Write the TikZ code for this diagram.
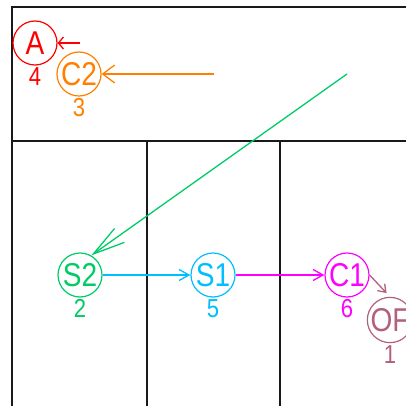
\documentclass[tikz,border=0pt]{standalone}
\usepackage{fontspec}
\setmainfont{Liberation Sans}[FakeStretch=0.85]
\usetikzlibrary{arrows.meta}
\definecolor{cred}{HTML}{FF0000}
\definecolor{corange}{HTML}{FF8000}
\definecolor{cgreen}{HTML}{00CC66}
\definecolor{ccyan}{HTML}{00BFFF}
\definecolor{cmagenta}{HTML}{FF00FF}
\definecolor{cmauve}{HTML}{B3607A}

\begin{document}
\begin{tikzpicture}[
      x=1pt,y=-1pt,
      state/.style={circle,draw,line width=1.2pt,minimum size=44pt,inner sep=0pt,
                    font=\fontsize{33}{33}\selectfont},
      lbl/.style={font=\fontsize{26}{26}\selectfont,inner sep=0pt},
      frame/.style={line width=1.4pt,black!90},
      arrow/.style={line width=1.3pt}
    ]
    \useasboundingbox (0,0) rectangle (406,406);
    \clip (0,0) rectangle (406,406);

    % frame
    \draw[frame] (406,7) -- (12,7) -- (12,406);
    \draw[frame] (12,141) -- (406,141);
    \draw[frame] (147,141) -- (147,406);
    \draw[frame] (280,141) -- (280,406);

    % states
    \node[state,draw=cred,text=cred,label={[lbl,text=cred,label distance=2pt]below:4}] (A) at (35,43) {A};
    \node[state,draw=corange,text=corange,label={[lbl,text=corange,label distance=2pt]below:3}] (C2) at (79,74) {C2};
    \node[state,draw=cgreen,text=cgreen,label={[lbl,text=cgreen,label distance=2pt]below:2}] (S2) at (80,275) {S2};
    \node[state,draw=ccyan,text=ccyan,label={[lbl,text=ccyan,label distance=2pt]below:5}] (S1) at (213,275) {S1};
    \node[state,draw=cmagenta,text=cmagenta,label={[lbl,text=cmagenta,label distance=2pt]below:6}] (C1) at (347,275) {C1};
    \node[state,draw=cmauve,text=cmauve,label={[lbl,text=cmauve,label distance=2pt]below:1}] (OF) at (390,320) {OF};

    % free ends
    \coordinate (inA)  at (80,43);
    \coordinate (inC2) at (214,74);
    \coordinate (inS2) at (347,74);

    % arrows
    \draw[arrow,cred,-{Straight Barb[length=5pt,width=12pt]}] (inA) -- (A.east);
    \draw[arrow,corange,-{Straight Barb[length=12pt,width=18pt]}] (inC2) -- (C2.east);
    \draw[arrow,cgreen,-{Straight Barb[length=32pt,width=17pt]}] (inS2) -- (S2.60);
    \draw[arrow,ccyan,-{Straight Barb[length=10pt,width=11pt]}] (S2) -- (S1);
    \draw[arrow,cmagenta,-{Straight Barb[length=10pt,width=11pt]}] (S1) -- (C1);
    \draw[arrow,cmauve,-{Straight Barb[length=7pt,width=10pt]},shorten >=5pt] (C1.east) -- (OF.north);

  \end{tikzpicture}
\end{document}
